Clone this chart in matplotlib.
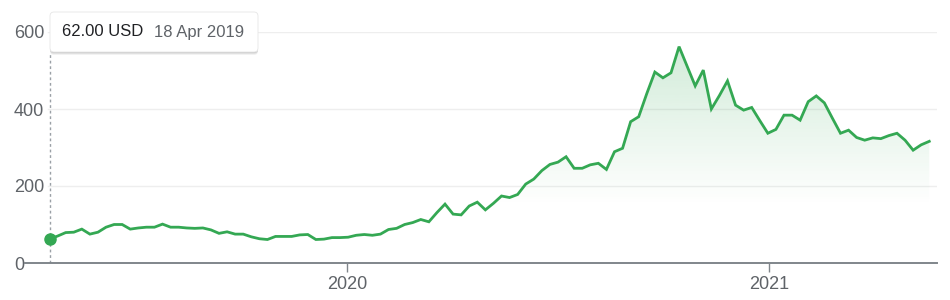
"""Weekly share price, Apr 2019 - May 2021, drawn in the style of a finance widget."""

import matplotlib
matplotlib.use("Agg")
import matplotlib.pyplot as plt
import matplotlib.dates as mdates
from matplotlib.patches import FancyBboxPatch, Polygon
from matplotlib.transforms import IdentityTransform
import numpy as np
import pandas as pd

plt.rcParams["font.family"] = ["Liberation Sans", "DejaVu Sans"]

START_DATE = "2019-04-18"   # first weekly close
PRICES = [
    62, 70, 79, 80, 88, 75, 80, 93, 100, 100,
    88, 91, 93, 93, 101, 93, 93, 91, 90, 91,
    86, 77, 81, 75, 75, 68, 63, 61, 69, 69,
    69, 73, 74, 61, 62, 66, 66, 67, 72, 74,
    72, 75, 87, 90, 100, 105, 113, 107, 131, 153,
    127, 125, 148, 158, 138, 155, 174, 170, 178, 205,
    218, 240, 256, 262, 276, 246, 246, 255, 259, 243,
    289, 298, 367, 380, 440, 496, 481, 494, 562, 511,
    460, 501, 400, 435, 473, 410, 397, 404, 370, 337,
    347, 384, 384, 371, 419, 434, 416, 376, 337, 345,
    326, 319, 325, 323, 331, 337, 319, 293, 307, 316,
]
Y_TICKS = [0, 200, 400, 600]
X_TICKS = ["2020-01-01", "2021-01-01"]
X_TICK_LABELS = ["2020", "2021"]
TOOLTIP_VALUE = "62.00 USD"
TOOLTIP_DATE = "18 Apr 2019"

GREEN = "#34a853"
AXIS_GREY = "#80868b"
TEXT_GREY = "#5f6368"

W, H = 950, 300

dates = pd.date_range(START_DATE, periods=len(PRICES), freq="7D")
xs = mdates.date2num(dates.to_pydatetime())
ys = np.array(PRICES, dtype=float)

fig = plt.figure(figsize=(W / 100, H / 100), dpi=100)
# plot box in pixels: x 25..937, y 32..263 (from the top)
ax = fig.add_axes([25 / W, (H - 263) / H, (937 - 25) / W, (263 - 32) / H])

# x scale pinned so 2020 sits at px 347 and 2021 at px 769
x20, x21 = mdates.date2num(pd.to_datetime(X_TICKS).to_pydatetime())
dpp = (x21 - x20) / (769 - 347)
ax.set_xlim(x20 - (347 - 25) * dpp, x21 + (937 - 769) * dpp)
ax.set_ylim(0, 600)

# light gridlines start right after the labels
for v in Y_TICKS[1:]:
    ax.axhline(v, xmin=(48 - 25) / (937 - 25), xmax=1, color="#eeeeee", lw=1, zorder=0)

# gradient under the line, clipped to the area polygon
verts = np.column_stack([np.r_[xs, xs[-1], xs[0]], np.r_[ys, 0, 0]])
poly = Polygon(verts, closed=True, facecolor="none", edgecolor="none")
ax.add_patch(poly)
levels = np.linspace(0, 600, 300)
alpha = np.clip((levels - 150) / 450, 0, 1) * 0.24
grad = np.zeros((len(levels), 1, 4))
grad[..., :3] = matplotlib.colors.to_rgb(GREEN)
grad[:, 0, 3] = alpha
img = ax.imshow(grad, extent=[xs[0], xs[-1], 0, 600], origin="lower",
                aspect="auto", interpolation="bilinear", zorder=1)
img.set_clip_path(poly)

# hover guide + dot at the first point
ax.plot([xs[0], xs[0]], [0, 548], color="#9aa0a6", lw=1, dashes=(2, 2), zorder=2)
ax.plot(xs, ys, color=GREEN, lw=2.0, solid_joinstyle="miter", zorder=3)
ax.plot(xs[0], ys[0], "o", color=GREEN, ms=8, zorder=4)

for s in ["top", "right", "left"]:
    ax.spines[s].set_visible(False)
ax.spines["bottom"].set_color(AXIS_GREY)
ax.spines["bottom"].set_linewidth(1.4)

ax.set_xticks([x20, x21])
ax.set_xticklabels(X_TICK_LABELS)
ax.tick_params(axis="x", direction="out", length=6.5, width=1, color=AXIS_GREY,
               labelsize=13, labelcolor=TEXT_GREY, pad=3)
ax.set_yticks(Y_TICKS)
ax.set_yticklabels([str(v) for v in Y_TICKS])
ax.tick_params(axis="y", length=0, labelsize=13, labelcolor=TEXT_GREY, pad=7.9)
for lab in ax.get_yticklabels():
    lab.set_horizontalalignment("left")

# tooltip card (pixel coords, origin bottom-left)
bx, by, bw, bh = 50, H - 52, 208, 40
for off, a in [(3, 0.05), (2, 0.07), (1, 0.10)]:
    fig.patches.append(FancyBboxPatch((bx, by - off), bw, bh,
                                      boxstyle="round,pad=0,rounding_size=4",
                                      transform=IdentityTransform(),
                                      facecolor="black", edgecolor="none", alpha=a))
fig.patches.append(FancyBboxPatch((bx, by), bw, bh,
                                  boxstyle="round,pad=0,rounding_size=4",
                                  transform=IdentityTransform(),
                                  facecolor="white", edgecolor="#e6e6e6", lw=0.6))
fig.text(62 / W, (H - 32) / H, TOOLTIP_VALUE, fontsize=12, color="#202124", va="center")
fig.text(154 / W, (H - 32) / H, TOOLTIP_DATE, fontsize=12, color=TEXT_GREY, va="center")

fig.savefig("out.png", dpi=100)
